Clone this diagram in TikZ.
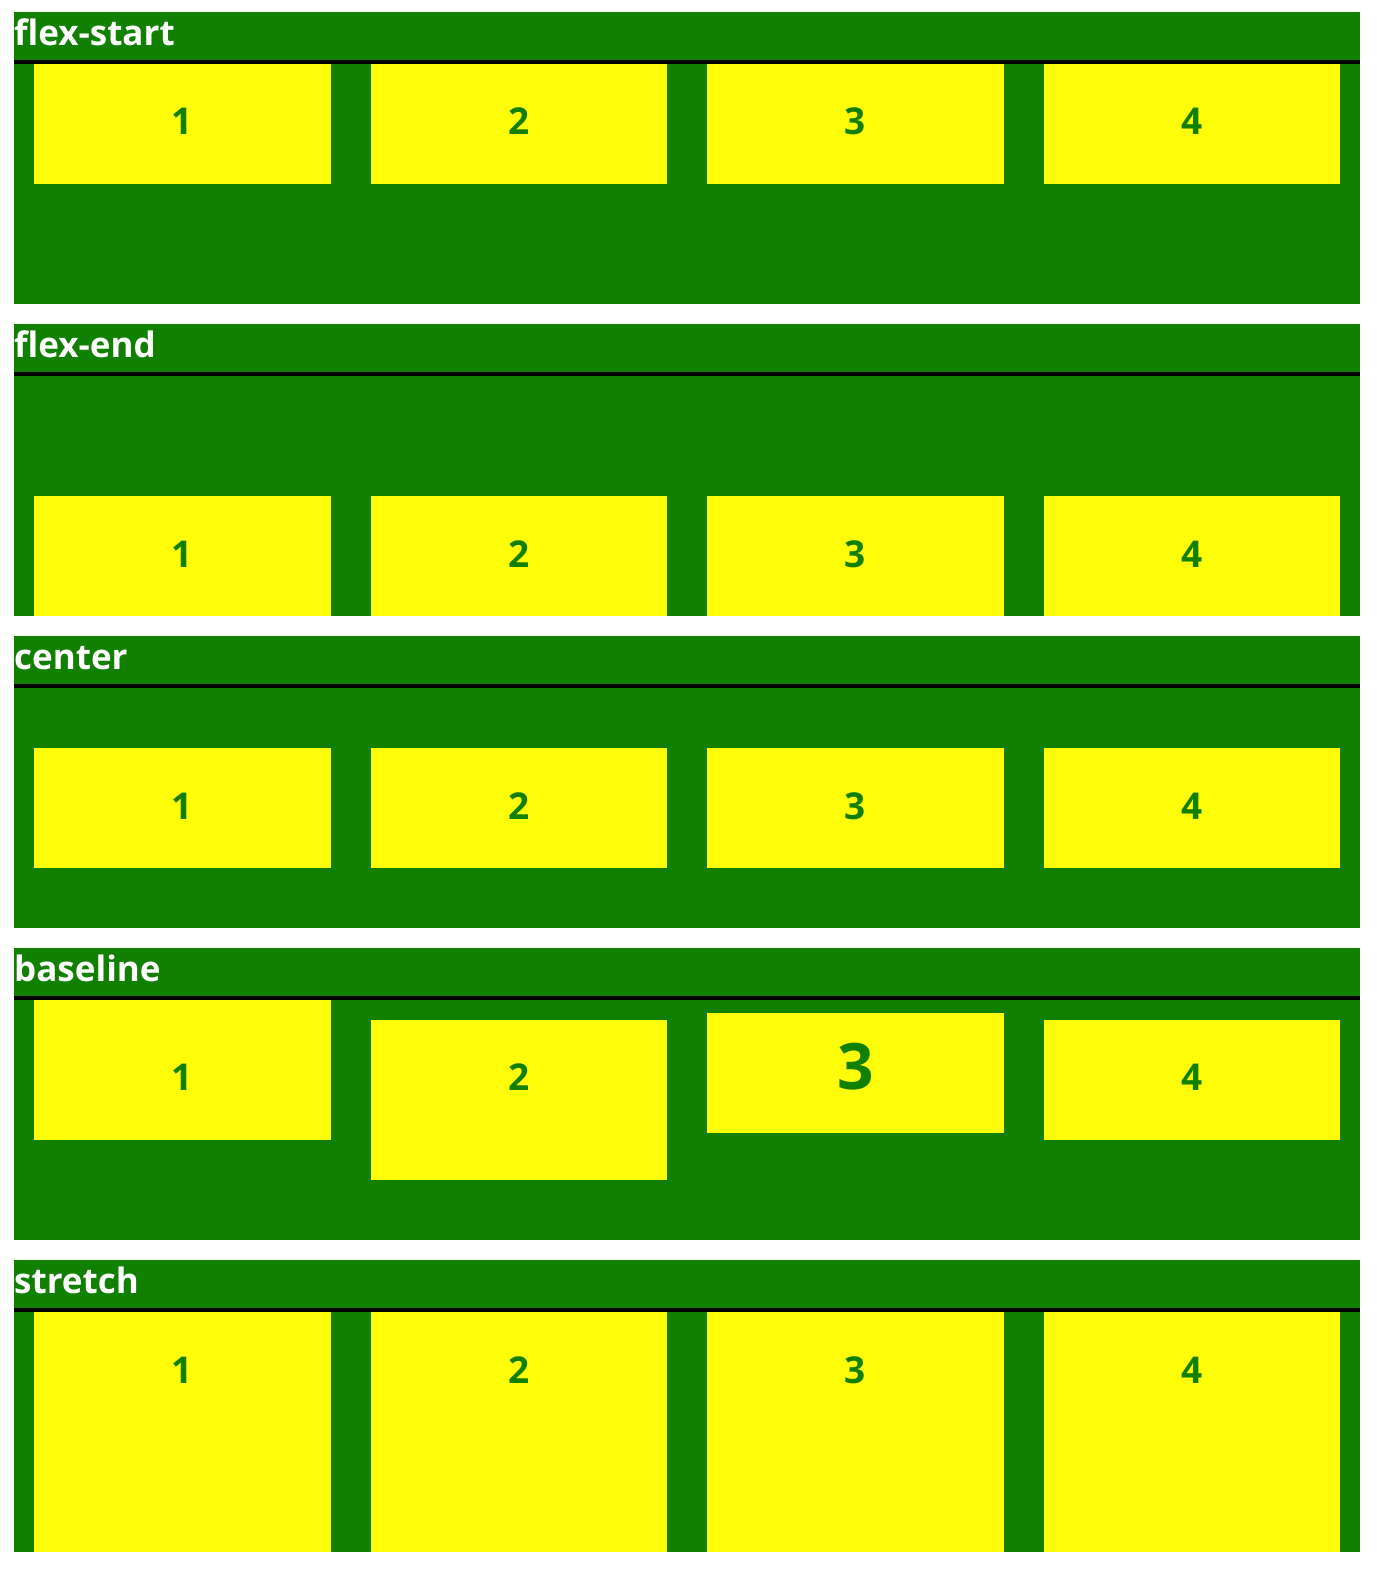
\documentclass[tikz,border=0pt]{standalone}
\usepackage{fontspec}
\setmainfont{Open Sans}
\usepackage{tikz}
\usetikzlibrary{positioning,calc}
\definecolor{boxgreen}{RGB}{17,128,0}
\definecolor{itemyellow}{RGB}{255,253,10}

\begin{document}
\begin{tikzpicture}[x=1pt,y=-1pt,
    panel/.style={fill=boxgreen},
    rule/.style={fill=black},
    title/.style={anchor=base west, inner sep=0pt, text=white, font=\fontsize{35}{35}\selectfont\bfseries},
    item/.style={fill=itemyellow, draw=none, inner sep=0pt, anchor=north west, minimum width=296.5pt},
    num/.style={anchor=base, inner sep=0pt, text=boxgreen, font=\fontsize{37}{37}\selectfont\bfseries}
  ]
  \useasboundingbox (0,0) rectangle (1376,1576);

  % Five panels, one per alignment
  \foreach \top/\name [count=\k] in {12/flex-start,324/flex-end,636/center,948/baseline,1260/stretch} {
    \fill[panel] (14,\top) rectangle (1360,\top+292);
    \fill[rule] (14,\top+48) rectangle (1360,\top+52);
    \node[title] (title\k) at (14,\top+33.5) {\name};
  }

  % flex-start
  \foreach \i in {1,...,4} {
    \node[item, minimum height=120pt] (fs\i) at (34+336.5*\i-336.5,64) {};
    \node[num] (fsn\i) at ([yshift=-71pt]fs\i.north) {\i};
  }

  % flex-end
  \foreach \i in {1,...,4} {
    \node[item, minimum height=120pt] (fe\i) at (34+336.5*\i-336.5,496) {};
    \node[num] (fen\i) at ([yshift=-71pt]fe\i.north) {\i};
  }

  % center
  \foreach \i in {1,...,4} {
    \node[item, minimum height=120pt] (ce\i) at (34+336.5*\i-336.5,748) {};
    \node[num] (cen\i) at ([yshift=-71pt]ce\i.north) {\i};
  }

  % baseline - boxes of different height, numbers on one line
  \foreach \i/\y/\h in {1/1000/140,2/1020/160,3/1013/120,4/1020/120} {
    \node[item, minimum height=\h pt] (bl\i) at (34+336.5*\i-336.5,\y) {};
  }
  \foreach \i in {1,2,4} {
    \node[num] (bln\i) at (bl\i.north |- 0,1090) {\i};
  }
  \node[num, font=\fontsize{64}{64}\selectfont\bfseries] (bln3) at (bl3.north |- 0,1089) {3};

  % stretch
  \foreach \i in {1,...,4} {
    \node[item, minimum height=240pt] (st\i) at (34+336.5*\i-336.5,1312) {};
    \node[num] (stn\i) at ([yshift=-71pt]st\i.north) {\i};
  }
\end{tikzpicture}
\end{document}
